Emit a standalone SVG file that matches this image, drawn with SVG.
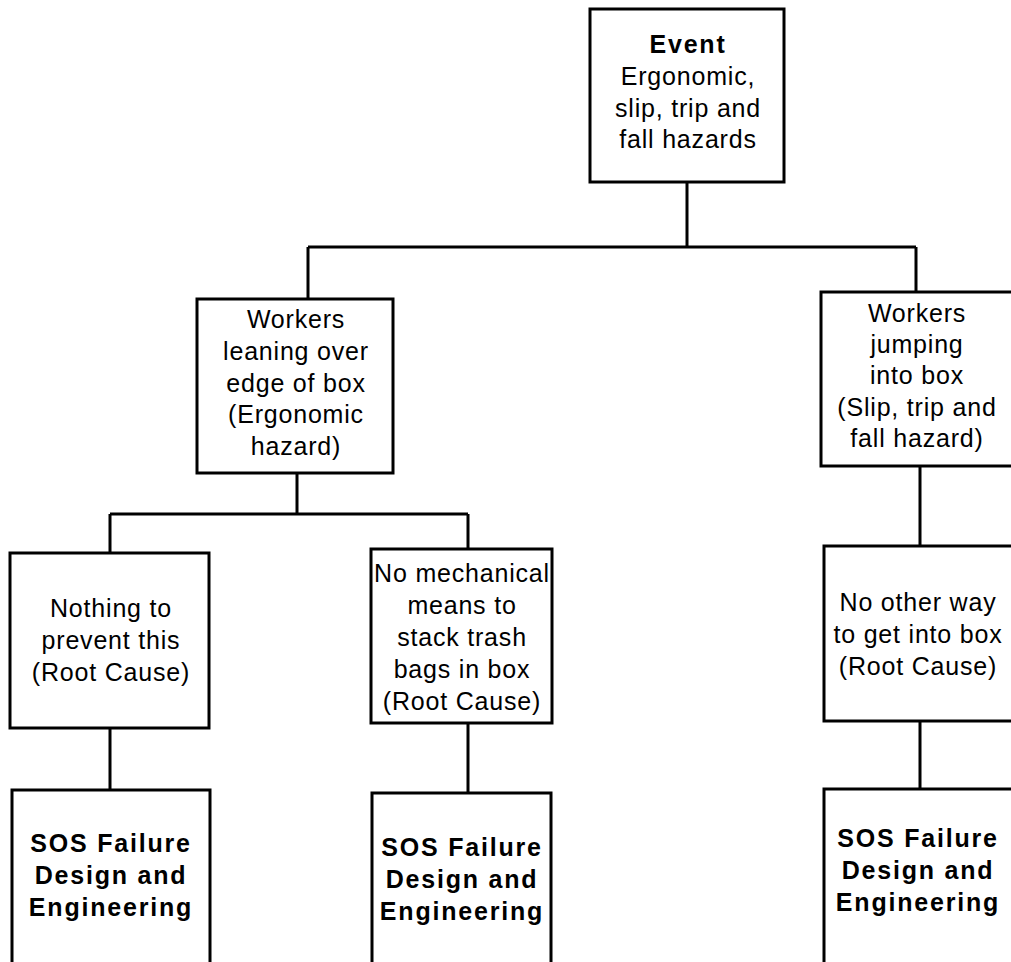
<svg xmlns="http://www.w3.org/2000/svg" width="1011" height="962" viewBox="0 0 1011 962">
<style>
.box{fill:#fff;stroke:#000;stroke-width:3}
.ln{fill:none;stroke:#000;stroke-width:3}
text{font-family:"Liberation Sans",Arial,sans-serif;font-size:25px;fill:#000;text-anchor:middle;letter-spacing:0.8px}
.b{font-weight:bold;letter-spacing:1.8px}
</style>
<rect width="1011" height="962" fill="#fff"/>
<g id="connectors">
<path class="ln" d="M687 182V247M308 247H916M308 247V299M916 247V292"/>
<path class="ln" d="M297 473V514M110 514H468M110 514V553M468 514V549"/>
<path class="ln" d="M110 728V790M468 723V793"/>
<path class="ln" d="M920 466V546M920 721V789"/>
</g>
<g id="event">
<rect class="box" x="590" y="9" width="194" height="173"/>
<text x="688" y="53" class="b">Event</text>
<text x="688" y="85">Ergonomic,</text>
<text x="688" y="117">slip, trip and</text>
<text x="688" y="148">fall hazards</text>
</g>
<g id="leaning">
<rect class="box" x="197" y="299" width="196" height="174"/>
<text x="296" y="328">Workers</text>
<text x="296" y="360">leaning over</text>
<text x="296" y="392">edge of box</text>
<text x="296" y="423">(Ergonomic</text>
<text x="296" y="455">hazard)</text>
</g>
<g id="jumping">
<rect class="box" x="821" y="292" width="200" height="174"/>
<text x="917" y="322">Workers</text>
<text x="917" y="353">jumping</text>
<text x="917" y="384">into box</text>
<text x="917" y="416">(Slip, trip and</text>
<text x="917" y="447">fall hazard)</text>
</g>
<g id="nothing">
<rect class="box" x="10" y="553" width="199" height="175"/>
<text x="111" y="617">Nothing to</text>
<text x="111" y="649">prevent this</text>
<text x="111" y="681">(Root Cause)</text>
</g>
<g id="mechanical">
<rect class="box" x="371" y="549" width="181" height="174"/>
<text x="462" y="582">No mechanical</text>
<text x="462" y="614">means to</text>
<text x="462" y="646">stack trash</text>
<text x="462" y="678">bags in box</text>
<text x="462" y="710">(Root Cause)</text>
</g>
<g id="otherway">
<rect class="box" x="824" y="546" width="200" height="175"/>
<text x="918" y="611">No other way</text>
<text x="918" y="643">to get into box</text>
<text x="918" y="675">(Root Cause)</text>
</g>
<g id="sos1">
<rect class="box" x="12" y="790" width="198" height="190"/>
<text x="111" y="852" class="b">SOS Failure</text>
<text x="111" y="884" class="b">Design and</text>
<text x="111" y="916" class="b">Engineering</text>
</g>
<g id="sos2">
<rect class="box" x="372" y="793" width="179" height="190"/>
<text x="462" y="856" class="b">SOS Failure</text>
<text x="462" y="888" class="b">Design and</text>
<text x="462" y="920" class="b">Engineering</text>
</g>
<g id="sos3">
<rect class="box" x="824" y="789" width="200" height="190"/>
<text x="918" y="847" class="b">SOS Failure</text>
<text x="918" y="879" class="b">Design and</text>
<text x="918" y="911" class="b">Engineering</text>
</g>
</svg>
